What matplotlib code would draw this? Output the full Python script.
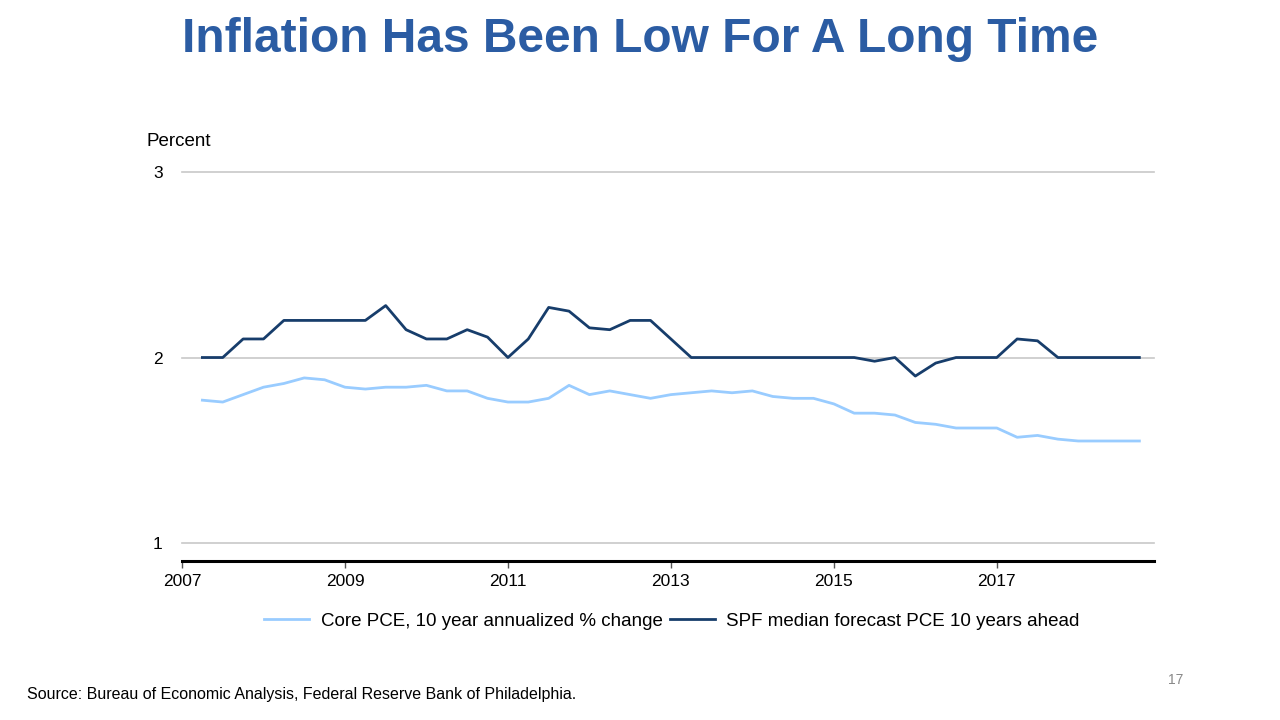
import numpy as np
import matplotlib.pyplot as plt
from matplotlib.lines import Line2D

plt.rcParams['font.family'] = ['Liberation Sans', 'DejaVu Sans']

# quarterly, 2007Q2 .. 2018Q4
quarters = 2007.25 + 0.25 * np.arange(47)

core_pce = [1.77, 1.76, 1.80, 1.84, 1.86, 1.89, 1.88, 1.84, 1.83, 1.84,
            1.84, 1.85, 1.82, 1.82, 1.78, 1.76, 1.76, 1.78, 1.85, 1.80,
            1.82, 1.80, 1.78, 1.80, 1.81, 1.82, 1.81, 1.82, 1.79, 1.78,
            1.78, 1.75, 1.70, 1.70, 1.69, 1.65, 1.64, 1.62, 1.62, 1.62,
            1.57, 1.58, 1.56, 1.55, 1.55, 1.55, 1.55]

spf_median = [2.00, 2.00, 2.10, 2.10, 2.20, 2.20, 2.20, 2.20, 2.20, 2.28,
              2.15, 2.10, 2.10, 2.15, 2.11, 2.00, 2.10, 2.27, 2.25, 2.16,
              2.15, 2.20, 2.20, 2.10, 2.00, 2.00, 2.00, 2.00, 2.00, 2.00,
              2.00, 2.00, 2.00, 1.98, 2.00, 1.90, 1.97, 2.00, 2.00, 2.00,
              2.10, 2.09, 2.00, 2.00, 2.00, 2.00, 2.00]

year_ticks = [2007, 2009, 2011, 2013, 2015, 2017]
y_ticks = [1, 2, 3]

col_light = "#99ccff"
col_dark = "#173d6b"
col_title = "#2b5ca3"

fig = plt.figure(figsize=(12.8, 7.2), dpi=100)
ax = fig.add_axes([0.1422, 0.2208, 0.7594, 0.5403])

# gridlines
for yv in y_ticks:
    ax.axhline(yv, color="#c8c8c8", lw=1.2, zorder=0, clip_on=False)

ax.plot(quarters, core_pce, color=col_light, lw=2, zorder=2)
ax.plot(quarters, spf_median, color=col_dark, lw=2, zorder=3)

ax.set_xlim(2007, 2018.93)
ax.set_ylim(0.903, 3.0)

for s in ["top", "right", "left"]:
    ax.spines[s].set_visible(False)
ax.spines["bottom"].set_linewidth(2.2)
ax.spines["bottom"].set_color("black")

ax.set_xticks(year_ticks)
ax.set_xticklabels([str(y) for y in year_ticks], fontsize=12.5)
ax.tick_params(axis="x", length=5, width=1, color="#555555", pad=4)
ax.set_yticks(y_ticks)
ax.set_yticklabels([str(y) for y in y_ticks], fontsize=12.5)
ax.tick_params(axis="y", length=0, pad=14)

fig.text(147 / 1280, 1 - 142 / 720, "Percent", fontsize=13.5, ha="left", va="center")

fig.text(0.5, 1 - 40 / 720, "Inflation Has Been Low For A Long Time",
         fontsize=34.5, fontweight="bold", color=col_title, ha="center", va="center")

# legend
handles = [Line2D([], [], color=col_light, lw=2),
           Line2D([], [], color=col_dark, lw=2)]
labels = ["Core PCE, 10 year annualized % change",
          "SPF median forecast PCE 10 years ahead"]
fig.legend(handles, labels, loc="center", bbox_to_anchor=(672 / 1280, 1 - 621 / 720),
           ncol=2, frameon=False, fontsize=13.5, handlelength=2.4,
           columnspacing=0.4, handletextpad=0.6)

fig.text(27 / 1280, 1 - 694 / 720,
         "Source: Bureau of Economic Analysis, Federal Reserve Bank of Philadelphia.",
         fontsize=11.5, ha="left", va="center")
fig.text(1176 / 1280, 1 - 680 / 720, "17", fontsize=10, color="#888888",
         ha="center", va="center")

plt.savefig("out.png", dpi=100)
